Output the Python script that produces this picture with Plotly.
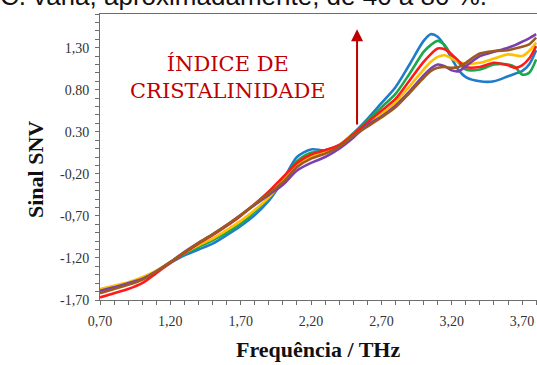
import plotly.graph_objects as go

freq = [0.70, 0.80, 0.90, 1.00, 1.10, 1.20, 1.30, 1.40, 1.50, 1.60, 1.70, 1.80, 1.90, 2.00,
        2.10, 2.20, 2.30, 2.40, 2.50, 2.60, 2.70, 2.80, 2.90, 3.00, 3.05, 3.10, 3.15, 3.20,
        3.25, 3.30, 3.40, 3.50, 3.60, 3.65, 3.70, 3.75, 3.80]

blue = [-1.59, -1.55, -1.50, -1.44, -1.36, -1.26, -1.17, -1.10, -1.03, -0.93, -0.82, -0.69, -0.52, -0.28,
        0.00, 0.09, 0.08, 0.14, 0.28, 0.45, 0.64, 0.83, 1.10, 1.38, 1.46, 1.43, 1.32, 1.17,
        1.03, 0.95, 0.90, 0.90, 0.96, 0.99, 1.02, 1.10, 1.27]
green = [-1.58, -1.54, -1.50, -1.44, -1.36, -1.25, -1.15, -1.07, -0.99, -0.90, -0.79, -0.65, -0.49, -0.27,
         -0.05, 0.05, 0.07, 0.14, 0.28, 0.43, 0.59, 0.75, 0.99, 1.25, 1.33, 1.38, 1.33, 1.20,
         1.12, 1.04, 1.04, 1.10, 1.10, 1.07, 0.98, 1.00, 1.16]
yellow = [-1.57, -1.53, -1.49, -1.43, -1.35, -1.25, -1.14, -1.05, -0.97, -0.87, -0.76, -0.63, -0.48, -0.29,
          -0.10, 0.00, 0.06, 0.14, 0.27, 0.38, 0.51, 0.65, 0.84, 1.04, 1.13, 1.19, 1.21, 1.17,
          1.13, 1.11, 1.12, 1.17, 1.22, 1.21, 1.20, 1.26, 1.36]
red = [-1.67, -1.62, -1.57, -1.50, -1.38, -1.26, -1.14, -1.03, -0.93, -0.82, -0.70, -0.56, -0.41, -0.24,
       -0.07, 0.03, 0.08, 0.14, 0.27, 0.41, 0.55, 0.69, 0.91, 1.13, 1.22, 1.29, 1.28, 1.22,
       1.14, 1.07, 1.07, 1.12, 1.09, 1.06, 1.09, 1.17, 1.32]
purple = [-1.59, -1.55, -1.50, -1.45, -1.36, -1.25, -1.13, -1.02, -0.92, -0.81, -0.69, -0.57, -0.45, -0.33,
          -0.16, -0.07, 0.00, 0.10, 0.23, 0.38, 0.48, 0.61, 0.78, 0.97, 1.05, 1.10, 1.08, 1.03,
          1.02, 1.08, 1.20, 1.25, 1.30, 1.33, 1.37, 1.41, 1.46]
brown = [-1.62, -1.57, -1.52, -1.46, -1.36, -1.25, -1.13, -1.02, -0.92, -0.81, -0.69, -0.56, -0.43, -0.30,
         -0.12, -0.02, 0.04, 0.12, 0.25, 0.36, 0.47, 0.59, 0.76, 0.94, 1.02, 1.06, 1.07, 1.06,
         1.07, 1.12, 1.23, 1.26, 1.27, 1.29, 1.31, 1.34, 1.42]

series = [("blue", blue, "#1F7BCB"), ("green", green, "#1AA84A"), ("yellow", yellow, "#FFC000"),
          ("red", red, "#FF1A1A"), ("purple", purple, "#7B3FB0"), ("brown", brown, "#9C5A1E")]

x_tickvals = [0.70, 1.20, 1.70, 2.20, 2.70, 3.20, 3.70]
x_ticktext = ["0,70", "1,20", "1,70", "2,20", "2,70", "3,20", "3,70"]
y_tickvals = [-1.70, -1.20, -0.70, -0.20, 0.30, 0.80, 1.30]
y_ticktext = ["-1,70", "-1,20", "-0,70", "-0,20", "0.30", "0.80", "1,30"]

fig = go.Figure()
for name, vals, col in series:
    fig.add_trace(go.Scatter(x=freq, y=vals, mode="lines", name=name,
                             line=dict(color=col, width=2.6, shape="spline", smoothing=0.8)))

axis_col = "#6E6E6E"
tickfont = dict(family="Liberation Serif", size=14, color="#333333")
fig.update_layout(
    width=537, height=365,
    margin=dict(l=100, r=0, t=14, b=65, autoexpand=False),
    paper_bgcolor="white", plot_bgcolor="white",
    showlegend=False,
    xaxis=dict(range=[0.70, 3.806], tickvals=x_tickvals, ticktext=x_ticktext, automargin=False,
               showgrid=False, zeroline=False, showline=True, linecolor=axis_col, linewidth=1,
               mirror=True, ticks="outside", ticklen=4, tickcolor=axis_col, tickfont=tickfont,
               ticklabelstandoff=4,
               minor=dict(dtick=0.1, tick0=0.7, ticks="outside", ticklen=4, tickcolor=axis_col)),
    yaxis=dict(range=[-1.70, 1.70], tickvals=y_tickvals, ticktext=y_ticktext, automargin=False,
               showgrid=False, zeroline=False, showline=True, linecolor=axis_col, linewidth=1,
               ticks="outside", ticklen=4, tickcolor=axis_col, tickfont=tickfont,
               ticklabelstandoff=3,
               minor=dict(dtick=0.1, tick0=-1.7, ticks="outside", ticklen=4, tickcolor=axis_col)),
)

PW, PH = 437, 286  # plot area size in px


def px(xp):
    return (xp - 100) / PW


def py(yp):
    return (300 - yp) / PH


fig.add_annotation(x=px(35), y=py(170), xref="paper", yref="paper", xanchor="center", yanchor="middle",
                   text="<b>Sinal SNV</b>", showarrow=False, textangle=-90,
                   font=dict(family="Liberation Serif", size=22, color="#111111"))
fig.add_annotation(x=px(318), y=py(349), xref="paper", yref="paper", xanchor="center", yanchor="middle",
                   text="<b>Frequência / THz</b>", showarrow=False,
                   font=dict(family="Liberation Serif", size=22, color="#111111"))
fig.add_annotation(x=px(228), y=py(77), xref="paper", yref="paper", xanchor="center", yanchor="middle",
                   text="ÍNDICE DE<br>CRISTALINIDADE", showarrow=False, align="center",
                   font=dict(family="DejaVu Serif", size=21, color="#C00000"))
fig.add_annotation(x=2.527, y=1.52, ax=2.527, ay=0.37, xref="x", yref="y", axref="x", ayref="y",
                   text="", showarrow=True, arrowhead=2, arrowsize=1.2, arrowwidth=2,
                   arrowcolor="#C00000")
fig.add_annotation(x=px(-2), y=py(13), xref="paper", yref="paper", xanchor="left", yanchor="bottom",
                   text="C. varia, aproximadamente, de 40 a 80 %.", showarrow=False,
                   font=dict(family="Liberation Sans", size=26, color="#111111"))

fig.write_html("out.html", config={"displayModeBar": False},
               post_script="document.body.style.margin='0';")
